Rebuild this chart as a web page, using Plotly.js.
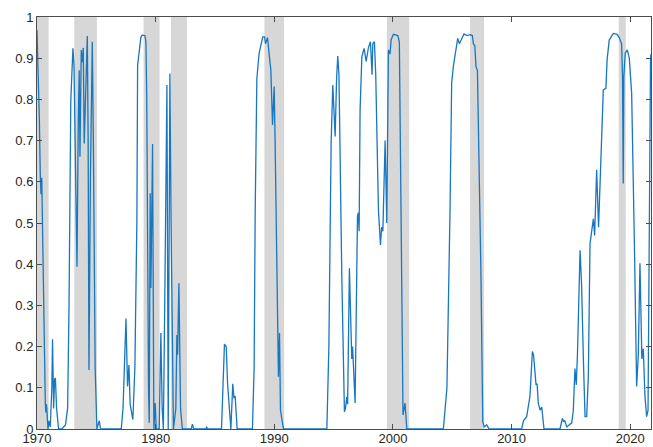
<!DOCTYPE html>
<html>
<head>
<meta charset="utf-8">
<script src="https://cdn.plot.ly/plotly-3.0.1.min.js"></script>
<style>html,body{margin:0;padding:0;background:#fff;}#chart{width:653px;height:447px;}</style>
</head>
<body>
<div id="chart"></div>
<script>
// Shaded periods (decimal years)
const shadeStart = [1970.00, 1973.14, 1978.98, 1981.29, 1989.17, 1999.49, 2006.50, 2019.03];
const shadeEnd   = [1970.98, 1975.05, 1980.33, 1982.64, 1990.83, 2001.37, 2007.68, 2019.62];

// Series (decimal year, probability)
const dates = [
1970.00,1970.08,1970.20,1970.28,1970.34,1970.40,1970.50,1970.62,1970.70,1970.75,1970.80,1970.93,
1971.02,1971.12,1971.25,1971.31,1971.40,1971.48,1971.55,1971.65,1971.82,1972.10,1972.40,1972.58,
1972.70,1972.85,1972.95,1973.03,1973.12,1973.25,1973.37,1973.48,1973.56,1973.62,1973.70,1973.73,
1973.80,1973.90,1973.98,1974.10,1974.24,1974.31,1974.38,1974.50,1974.66,1974.75,1974.90,1975.05,
1975.25,1975.35,1977.10,1977.25,1977.50,1977.63,1977.75,1977.85,1977.95,1978.08,1978.25,1978.42,
1978.48,1978.60,1978.75,1978.85,1979.10,1979.18,1979.25,1979.40,1979.46,1979.54,1979.60,1979.74,
1979.85,1979.96,1980.05,1980.30,1980.44,1980.55,1980.65,1980.80,1980.95,1981.06,1981.20,1981.30,
1981.50,1981.70,1981.79,1981.85,1981.96,1982.10,1982.25,1983.00,1983.10,1983.20,1984.25,1984.30,
1984.35,1985.55,1985.65,1985.80,1985.95,1986.06,1986.34,1986.50,1986.60,1986.70,1986.87,1988.16,
1988.30,1988.39,1988.53,1988.72,1989.03,1989.18,1989.26,1989.43,1989.60,1989.71,1989.85,1989.99,
1990.07,1990.20,1990.35,1990.44,1990.52,1990.77,1994.43,1994.60,1994.79,1994.93,1995.00,1995.13,
1995.25,1995.35,1995.45,1995.60,1995.69,1995.91,1996.00,1996.11,1996.18,1996.33,1996.45,1996.53,
1996.60,1996.81,1997.01,1997.08,1997.15,1997.23,1997.38,1997.57,1997.74,1997.93,1998.10,1998.24,
1998.30,1998.44,1998.55,1998.78,1998.95,1999.05,1999.15,1999.34,1999.48,1999.62,1999.75,1999.85,
2000.04,2000.41,2000.54,2000.74,2000.85,2001.02,2001.17,2004.25,2004.45,2004.50,2004.55,2004.81,
2004.95,2005.09,2005.30,2005.46,2005.60,2005.75,2005.99,2006.25,2006.50,2006.69,2006.78,2006.90,
2007.00,2007.12,2007.34,2007.42,2007.57,2007.70,2007.90,2008.10,2010.85,2011.00,2011.27,2011.40,
2011.55,2011.75,2011.85,2012.06,2012.15,2012.25,2012.40,2012.54,2012.73,2014.08,2014.28,2014.38,
2014.48,2014.65,2015.07,2015.20,2015.34,2015.45,2015.55,2015.77,2015.90,2016.05,2016.19,2016.33,
2016.47,2016.61,2016.89,2017.00,2017.17,2017.33,2017.53,2017.73,2017.95,2018.05,2018.23,2018.57,
2018.90,2019.07,2019.27,2019.35,2019.41,2019.46,2019.58,2019.75,2019.92,2020.12,2020.35,2020.54,
2020.68,2020.82,2020.98,2021.10,2021.24,2021.38,2021.50,2021.60,2021.71,2021.75
];
const prob = [
0.968,0.90,0.75,0.612,0.57,0.61,0.40,0.15,0.063,0.04,0.06,0.0,
0.02,0.005,0.10,0.218,0.05,0.12,0.124,0.05,0.0,0.0,0.01,0.05,
0.30,0.80,0.90,0.924,0.88,0.65,0.394,0.75,0.871,0.661,0.90,0.92,
0.89,0.925,0.693,0.85,0.954,0.70,0.143,0.60,0.94,0.70,0.15,0.0,
0.02,0.0,0.0,0.05,0.268,0.103,0.155,0.06,0.04,0.023,0.15,0.507,
0.883,0.92,0.95,0.956,0.955,0.94,0.80,0.10,0.015,0.572,0.342,0.692,
0.0,0.063,0.0,0.0,0.233,0.05,0.0,0.40,0.835,0.0,0.863,0.50,
0.0,0.05,0.228,0.18,0.354,0.05,0.0,0.0,0.012,0.0,0.0,0.006,
0.0,0.0,0.08,0.206,0.20,0.111,0.0,0.11,0.075,0.08,0.0,0.0,
0.15,0.53,0.85,0.912,0.952,0.952,0.935,0.95,0.90,0.871,0.738,0.831,
0.694,0.40,0.127,0.233,0.046,0.0,0.0,0.20,0.694,0.835,0.80,0.71,
0.85,0.905,0.86,0.55,0.37,0.042,0.05,0.078,0.06,0.39,0.20,0.17,
0.20,0.063,0.515,0.525,0.48,0.774,0.904,0.924,0.892,0.925,0.94,0.86,
0.935,0.94,0.86,0.53,0.447,0.49,0.48,0.70,0.50,0.92,0.91,0.945,
0.958,0.955,0.94,0.45,0.034,0.063,0.0,0.0,0.063,0.08,0.10,0.53,
0.839,0.88,0.924,0.948,0.935,0.945,0.959,0.955,0.957,0.955,0.935,0.93,
0.88,0.87,0.53,0.37,0.018,0.005,0.01,0.0,0.0,0.02,0.03,0.05,
0.08,0.188,0.18,0.107,0.11,0.063,0.046,0.053,0.0,0.0,0.026,0.018,
0.02,0.005,0.015,0.045,0.147,0.107,0.18,0.434,0.35,0.17,0.03,0.03,
0.13,0.45,0.51,0.47,0.629,0.49,0.64,0.823,0.827,0.896,0.944,0.96,
0.958,0.95,0.935,0.855,0.596,0.855,0.912,0.92,0.90,0.815,0.45,0.103,
0.18,0.402,0.17,0.195,0.08,0.03,0.045,0.53,0.90,0.91
];

const xTicks = [1970, 1980, 1990, 2000, 2010, 2020];
const xTickText = ['1970','1980','1990','2000','2010','2020'];
const yTicks = [0,0.1,0.2,0.3,0.4,0.5,0.6,0.7,0.8,0.9,1];
const yTickText = ['0','0.1','0.2','0.3','0.4','0.5','0.6','0.7','0.8','0.9','1'];

const shapes = shadeStart.map((s, i) => ({
  type: 'rect', xref: 'x', yref: 'y', x0: s, x1: shadeEnd[i], y0: 0, y1: 1,
  fillcolor: '#d7d7d7', line: {width: 0}, layer: 'below'
}));

const axisCommon = {
  showgrid: false, zeroline: false, showline: true, mirror: 'ticks',
  linecolor: '#4d4d4d', linewidth: 1, ticks: 'inside', ticklen: 5,
  tickcolor: '#4d4d4d', tickwidth: 1,
  tickfont: {family: 'Liberation Sans, Arial, sans-serif', size: 13, color: '#262626'}
};

const layout = {
  width: 653, height: 447,
  margin: {l: 37, r: 2, t: 17, b: 18, pad: 0},
  paper_bgcolor: '#fff', plot_bgcolor: '#fff',
  showlegend: false,
  xaxis: Object.assign({}, axisCommon, {range: [1970, 2021.75], tickvals: xTicks, ticktext: xTickText, ticklabelstandoff: -3}),
  yaxis: Object.assign({}, axisCommon, {range: [0, 1], tickvals: yTicks, ticktext: yTickText}),
  shapes: shapes
};

Plotly.newPlot('chart', [{
  x: dates, y: prob, type: 'scatter', mode: 'lines',
  line: {color: '#1777c0', width: 1.3}, hoverinfo: 'skip'
}], layout, {staticPlot: true, displayModeBar: false});
</script>
</body>
</html>
